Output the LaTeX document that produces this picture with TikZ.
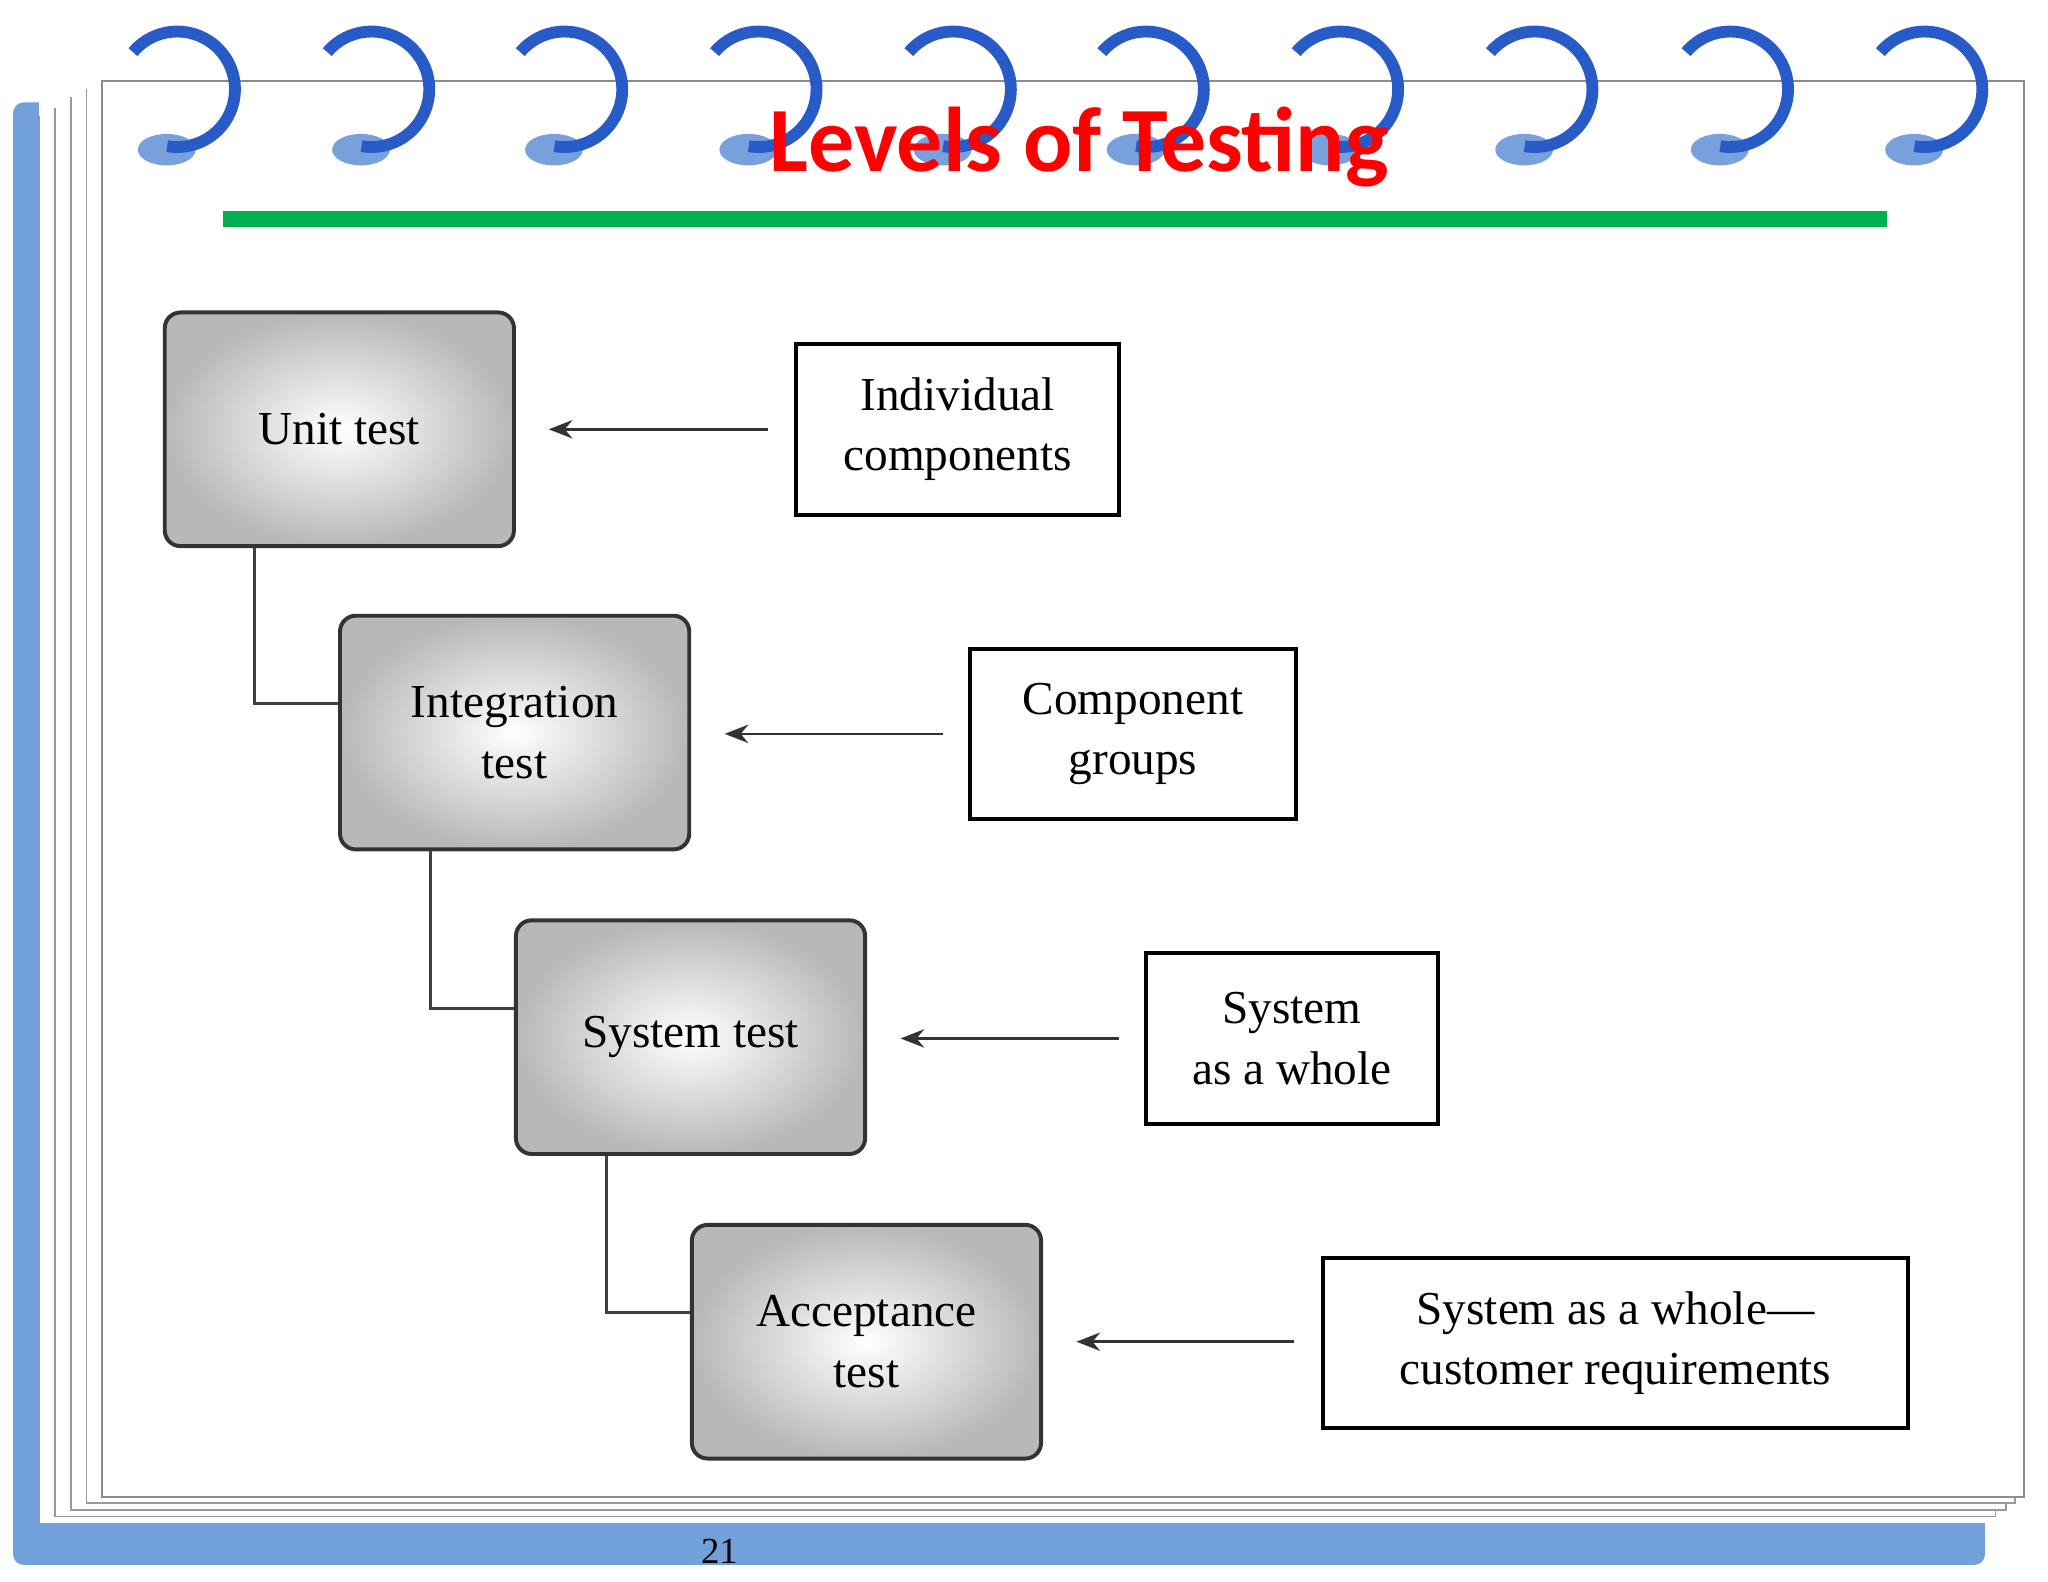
\documentclass[tikz,border=0pt]{standalone}
\usepackage{fontspec}
\setmainfont{Liberation Serif}
\newfontfamily\titlefont{Carlito}
\usetikzlibrary{arrows.meta}
\definecolor{bord}{RGB}{114,160,218}
\definecolor{ringblue}{RGB}{40,90,200}
\definecolor{ringlight}{RGB}{120,160,220}
\definecolor{grn}{RGB}{0,176,80}
\tikzset{
 graybox/.style={draw=black!80,line width=1.5pt,rounded corners=6pt,inner color=white,outer color=black!28,minimum width=133pt,minimum height=89pt,align=center,font=\fontsize{18}{23}\selectfont},
 whitebox/.style={draw=black,line width=1.5pt,fill=white,align=center,font=\fontsize{18}{23}\selectfont},
 conn/.style={black!75,line width=1.2pt},
 arr/.style={black!80,line width=1pt,-{Stealth[length=9pt,width=7pt]}},
 ring/.style={ringblue,line width=4.5pt},
}
\begin{document}
\begin{tikzpicture}[x=0.5pt,y=-0.5pt]
\useasboundingbox (0,0) rectangle (1560,1205);
\fill[white] (0,0) rectangle (1560,1205);
\fill[bord,rounded corners=4pt] (10,78) rectangle (1512,1192);
\fill[white] (30,78) rectangle (1542,1160);
\draw[black!40,line width=0.6pt] (30,88) -- (30,1162) -- (1512,1162);
\draw[black!40,line width=0.6pt] (42,82) -- (42,1155) -- (1520,1155) -- (1520,1150);
\draw[black!40,line width=0.6pt] (54,74) -- (54,1150) -- (1528,1150) -- (1528,1144);
\draw[black!40,line width=0.6pt] (66,68) -- (66,1145) -- (1535,1145) -- (1535,1138);
\draw[black!45,line width=0.8pt,fill=white] (78,62) -- (1542,62) -- (1542,1140) -- (78,1140) -- cycle;
\foreach \cx in {135,283,430,578,726,873,1021,1169,1318,1466}{
  \fill[ringlight] (\cx-8,114) ellipse [x radius=22, y radius=12];
  \draw[ring] (\cx,68) ++(140:22pt) arc[start angle=140,end angle=-100,radius=22pt];
}
\node (title) at (822,112) {\titlefont\bfseries\color{red}\fontsize{35}{40}\selectfont Levels of Testing};
\fill[grn] (170,161) rectangle (1437,173);
\node[graybox] (u) at (258.5,327) {Unit test};
\node[graybox] (i) at (392,558) {Integration\\test};
\node[graybox] (s) at (526,790) {System test};
\node[graybox] (a) at (660,1022) {Acceptance\\test};
\node[whitebox,minimum width=123pt,minimum height=65pt] (w1) at (729.5,327) {Individual\\components};
\node[whitebox,minimum width=124pt,minimum height=65pt] (w2) at (863,559) {Component\\groups};
\node[whitebox,minimum width=111pt,minimum height=65pt] (w3) at (984,791) {System\\as a whole};
\node[whitebox,minimum width=223pt,minimum height=65pt] (w4) at (1230.5,1023) {System as a whole---\\customer requirements};
\draw[conn] (u.south -| 194,0) |- (i.west |- 0,536);
\draw[conn] (i.south -| 328,0) |- (s.west |- 0,768);
\draw[conn] (s.south -| 462,0) |- (a.west |- 0,1000);
\coordinate (e1) at (418,327); \coordinate (e2) at (552,559);
\coordinate (e3) at (686,791); \coordinate (e4) at (820,1022);
\coordinate (s1) at (585,327); \coordinate (s2) at (718,559);
\coordinate (s3) at (852,791); \coordinate (s4) at (986,1022);
\draw[arr] (s1) -- (e1); \draw[arr] (s2) -- (e2);
\draw[arr] (s3) -- (e3); \draw[arr] (s4) -- (e4);
\node (num) at (548,1182) {\fontsize{14}{16}\selectfont 21};
\end{tikzpicture}
\end{document}
